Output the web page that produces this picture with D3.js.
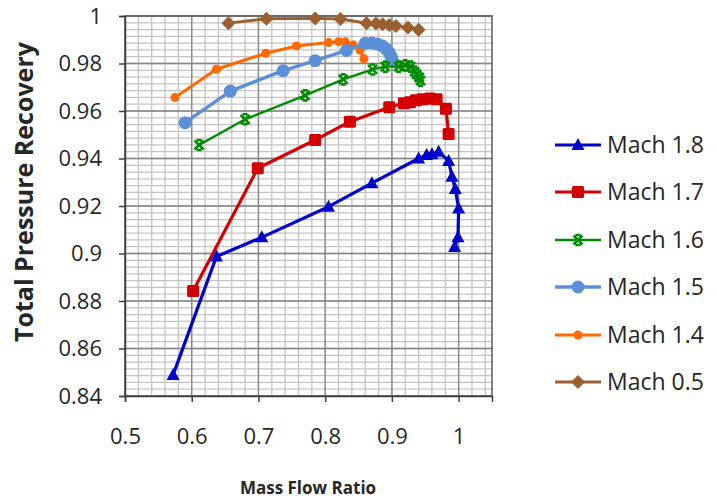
<!DOCTYPE html>
<html><head><meta charset="utf-8">
<script src="https://cdn.jsdelivr.net/npm/d3@7"></script>
<style>body{margin:0;background:#fff}svg{display:block}</style>
</head><body>
<svg id="chart" width="717" height="499"></svg>
<script>
// ---- data ----
const seriesNames = ["Mach 1.8","Mach 1.7","Mach 1.6","Mach 1.5","Mach 1.4","Mach 0.5"];
const mach18x = [0.572,0.637,0.705,0.805,0.870,0.940,0.952,0.960,0.970,0.985,0.990,0.995,1.000,0.999,0.994];
const mach18y = [0.8488,0.8987,0.9068,0.9197,0.9296,0.9400,0.9415,0.9418,0.9428,0.9390,0.9323,0.9272,0.9190,0.9068,0.9027];
const mach17x = [0.602,0.699,0.785,0.837,0.896,0.918,0.927,0.936,0.946,0.957,0.967,0.981,0.985];
const mach17y = [0.8842,0.9359,0.9478,0.9555,0.9616,0.9633,0.9637,0.9645,0.9649,0.9653,0.9650,0.9610,0.9503];
const mach16x = [0.611,0.680,0.770,0.827,0.871,0.890,0.910,0.920,0.928,0.934,0.937,0.941,0.943];
const mach16y = [0.9457,0.9565,0.9666,0.9733,0.9775,0.9787,0.9787,0.9792,0.9787,0.9766,0.9754,0.9741,0.9728];
const mach15x = [0.590,0.658,0.737,0.785,0.832,0.860,0.870,0.878,0.885,0.891,0.896,0.899,0.901];
const mach15y = [0.9551,0.9684,0.9770,0.9812,0.9855,0.9885,0.9886,0.9882,0.9875,0.9862,0.9845,0.9828,0.9810];
const mach14x = [0.575,0.637,0.711,0.757,0.805,0.820,0.830,0.842,0.852,0.858];
const mach14y = [0.9657,0.9776,0.9843,0.9874,0.9888,0.9892,0.9892,0.9878,0.9857,0.9820];
const mach05x = [0.655,0.712,0.785,0.823,0.862,0.876,0.886,0.896,0.906,0.924,0.940];
const mach05y = [0.9970,0.9988,0.9990,0.9987,0.9970,0.9968,0.9965,0.9962,0.9958,0.9952,0.9942];
const xTickLabels = ["0.5","0.6","0.7","0.8","0.9","1"];
const yTickLabels = ["0.84","0.86","0.88","0.9","0.92","0.94","0.96","0.98","1"];
const xTitle = "Mass Flow Ratio";
const yTitle = "Total Pressure Recovery";

// ---- styling ----
const colors = ["#0000CC","#D40000","#008C00","#5B8FD8","#FF6A00","#9B6030"];
const markers = ["triangle","square","star","circle","smallcircle","diamond"];
const widths = [3.2,3.2,2.4,3.4,3,3];
const font = "'Open Sans', 'DejaVu Sans', sans-serif";

const svg = d3.select("#chart");
svg.append("rect").attr("width",717).attr("height",499).attr("fill","#fff");

const x = d3.scaleLinear().domain([0.5,1.05]).range([125,492]);
const y = d3.scaleLinear().domain([0.84,1.0]).range([396,16]);

// grid
const g = svg.append("g");
const xMinor = d3.range(0,28).map(i=>0.5+i*0.02).filter(v=>v<1.049);
const yMinor = d3.range(0,57).map(i=>0.84+i*0.02/7).filter(v=>v<0.9999);
g.selectAll(".xm").data(xMinor).enter().append("line")
  .attr("x1",d=>x(d)).attr("x2",d=>x(d)).attr("y1",y(0.84)).attr("y2",y(1))
  .attr("stroke","#c4c4c4").attr("stroke-width",1.3);
g.selectAll(".ym").data(yMinor).enter().append("line")
  .attr("y1",d=>y(d)).attr("y2",d=>y(d)).attr("x1",x(0.5)).attr("x2",x(1.05))
  .attr("stroke","#c4c4c4").attr("stroke-width",1.3);
const xMajor = xTickLabels.map(Number);
const yMajor = yTickLabels.map(Number);
g.selectAll(".xM").data(xMajor).enter().append("line")
  .attr("x1",d=>x(d)).attr("x2",d=>x(d)).attr("y1",y(0.84)).attr("y2",y(1))
  .attr("stroke","#858585").attr("stroke-width",1.3);
g.selectAll(".yM").data(yMajor).enter().append("line")
  .attr("y1",d=>y(d)).attr("y2",d=>y(d)).attr("x1",x(0.5)).attr("x2",x(1.05))
  .attr("stroke","#858585").attr("stroke-width",1.3);
// frame top/right
svg.append("rect").attr("x",x(0.5)).attr("y",y(1)).attr("width",x(1.05)-x(0.5)).attr("height",y(0.84)-y(1))
  .attr("fill","none").attr("stroke","#595959").attr("stroke-width",1.5);

// axes
const xAxis = d3.axisBottom(x).tickValues(xMajor).tickSize(6).tickPadding(26)
  .tickFormat((d,i)=>xTickLabels[i]);
const yAxis = d3.axisLeft(y).tickValues(yMajor).tickSize(6).tickPadding(17)
  .tickFormat((d,i)=>yTickLabels[i]);
const gx = svg.append("g").attr("transform",`translate(0,${y(0.84)})`).call(xAxis);
const gy = svg.append("g").attr("transform",`translate(${x(0.5)},0)`).call(yAxis);
[gx,gy].forEach(a=>{
  a.select(".domain").attr("stroke","#404040").attr("stroke-width",1.5);
  a.selectAll(".tick line").attr("stroke","#404040").attr("stroke-width",1.5);
  a.selectAll("text").attr("font-family",font).attr("font-size",22).attr("fill","#262626");
});

// titles
svg.append("text").attr("x",308).attr("y",494).attr("text-anchor","middle")
  .attr("font-family",font).attr("font-weight","bold").attr("font-size",17).attr("fill","#262626").text(xTitle);
svg.append("text").attr("transform","translate(33,192) rotate(-90)").attr("text-anchor","middle")
  .attr("font-family",font).attr("font-weight","bold").attr("font-size",25).attr("fill","#262626").text(yTitle);

// marker generator
function drawMarker(sel, type, color){
  if(type==="triangle"){
    sel.append("path").attr("d","M0,-7L6.5,5L-6.5,5Z").attr("fill",color);
  } else if(type==="square"){
    sel.append("rect").attr("x",-6).attr("y",-6).attr("width",12).attr("height",12).attr("rx",1.5).attr("fill",color);
  } else if(type==="star"){
    sel.append("path").attr("d","M-4.5,-4.5L4.5,4.5M4.5,-4.5L-4.5,4.5M-2.5,-5H2.5M-2.5,5H2.5")
      .attr("stroke",color).attr("stroke-width",2.6).attr("fill","none");
  } else if(type==="circle"){
    sel.append("circle").attr("r",6.5).attr("fill",color);
  } else if(type==="smallcircle"){
    sel.append("circle").attr("r",4.5).attr("fill",color);
  } else if(type==="diamond"){
    sel.append("path").attr("d","M0,-7L7,0L0,7L-7,0Z").attr("fill",color);
  }
}

const allX = [mach18x,mach17x,mach16x,mach15x,mach14x,mach05x];
const allY = [mach18y,mach17y,mach16y,mach15y,mach14y,mach05y];
const line = d3.line().x(d=>x(d[0])).y(d=>y(d[1]));

const order = [5,4,3,2,1,0];
order.forEach(i=>{
  const pts = allX[i].map((v,j)=>[v,allY[i][j]]);
  const sg = svg.append("g");
  sg.append("path").datum(pts).attr("d",line).attr("fill","none")
    .attr("stroke",colors[i]).attr("stroke-width",widths[i]).attr("stroke-linejoin","round");
  pts.forEach(p=>{
    drawMarker(sg.append("g").attr("transform",`translate(${x(p[0])},${y(p[1])})`), markers[i], colors[i]);
  });
});

// legend
const legY = [145,192,240,287,335,382];
seriesNames.forEach((name,i)=>{
  const lg = svg.append("g").attr("transform",`translate(0,${legY[i]})`);
  lg.append("line").attr("x1",555).attr("x2",601).attr("y1",0).attr("y2",0)
    .attr("stroke",colors[i]).attr("stroke-width",widths[i]);
  drawMarker(lg.append("g").attr("transform","translate(578,0)"), markers[i], colors[i]);
  lg.append("text").attr("x",607).attr("y",0).attr("dy","0.35em")
    .attr("font-family",font).attr("font-size",23).attr("fill","#262626").text(name);
});
</script>
</body></html>
